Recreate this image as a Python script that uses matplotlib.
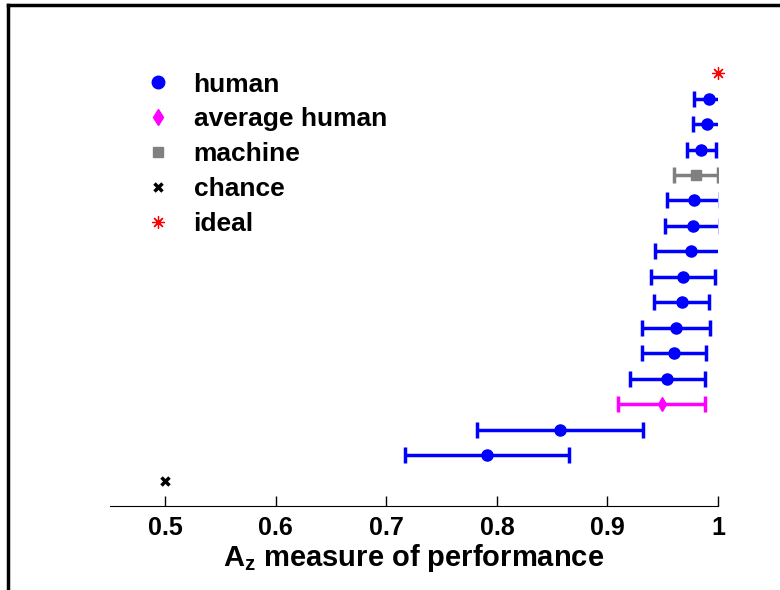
import numpy as np
import matplotlib.pyplot as plt
from matplotlib.lines import Line2D

plt.rcParams['font.family'] = ['Liberation Sans', 'DejaVu Sans']
plt.rcParams['font.weight'] = 'bold'
plt.rcParams['mathtext.fontset'] = 'custom'
plt.rcParams['mathtext.bf'] = 'Liberation Sans:bold'
plt.rcParams['mathtext.rm'] = 'Liberation Sans:bold'

# Az for each observer, with half-width of the error bar
human_az = [0.992, 0.990, 0.985, 0.978, 0.977, 0.976, 0.968, 0.967, 0.962, 0.960, 0.954, 0.857, 0.791]
human_err = [0.014, 0.013, 0.013, 0.024, 0.025, 0.033, 0.029, 0.025, 0.031, 0.029, 0.034, 0.075, 0.074]
avg_az = 0.949
avg_err = 0.039
machine_az = 0.980
machine_err = 0.020
chance_az = 0.5
ideal_az = 1.0

# rows are ordered by performance, best on top
all_az = sorted(human_az + [avg_az, machine_az, chance_az, ideal_az])
def row(v):
    return all_az.index(v) + 1

fig = plt.figure(figsize=(7.8, 5.9), dpi=100)
ax = fig.add_axes([0.141, 0.1424, 0.7795, 0.807])

eb = dict(elinewidth=2.5, capsize=5.5, capthick=2.5, linestyle='none')
ax.errorbar(human_az, [row(v) for v in human_az], xerr=human_err, fmt='o',
            color='blue', ms=8, **eb)
ax.errorbar([avg_az], [row(avg_az)], xerr=[avg_err], fmt='d',
            color='magenta', ms=7, **eb)
ax.errorbar([machine_az], [row(machine_az)], xerr=[machine_err], fmt='s',
            color='gray', ms=7, **eb)
ax.plot([chance_az], [row(chance_az)], 'x', color='black', ms=6, mew=2.5)
ax.plot([ideal_az], [row(ideal_az)], marker=(8, 2, 0), color='red', ms=9,
        mew=0.9, linestyle='none', clip_on=False)

ax.set_xlim(0.45, 1.0)
ax.set_ylim(0, 18.7)
ax.set_xticks([0.5, 0.6, 0.7, 0.8, 0.9, 1.0])
ax.set_xticklabels(['0.5', '0.6', '0.7', '0.8', '0.9', '1'])
ax.set_yticks([])
for s in ['top', 'left', 'right']:
    ax.spines[s].set_visible(False)
ax.tick_params(axis='x', direction='in', length=7, width=1, labelsize=18, pad=7)
ax.set_xlabel(r'$\mathbf{A_z}$ measure of performance', fontsize=21,
              fontweight='bold', labelpad=2)

handles = [
    Line2D([], [], marker='o', color='blue', ms=9, linestyle='none'),
    Line2D([], [], marker='d', color='magenta', ms=8, linestyle='none'),
    Line2D([], [], marker='s', color='gray', ms=7, linestyle='none'),
    Line2D([], [], marker='x', color='black', ms=6, mew=2.5, linestyle='none'),
    Line2D([], [], marker=(8, 2, 0), color='red', ms=9, mew=0.9, linestyle='none'),
]
labels = ['human', 'average human', 'machine', 'chance', 'ideal']
fig.legend(handles, labels, loc='upper left', bbox_to_anchor=(0.1636, 0.895),
           frameon=False, fontsize=19, labelspacing=0.41, handletextpad=0.6,
           handlelength=1.5, borderaxespad=0)

# outer frame along the top and left edges
fig.add_artist(Line2D([8 / 780, 1.0], [1 - 5 / 590, 1 - 5 / 590],
                      color='black', lw=2.5, transform=fig.transFigure))
fig.add_artist(Line2D([8 / 780, 8 / 780], [0, 1 - 5 / 590],
                      color='black', lw=2.5, transform=fig.transFigure))

fig.savefig('out.png', dpi=100)
